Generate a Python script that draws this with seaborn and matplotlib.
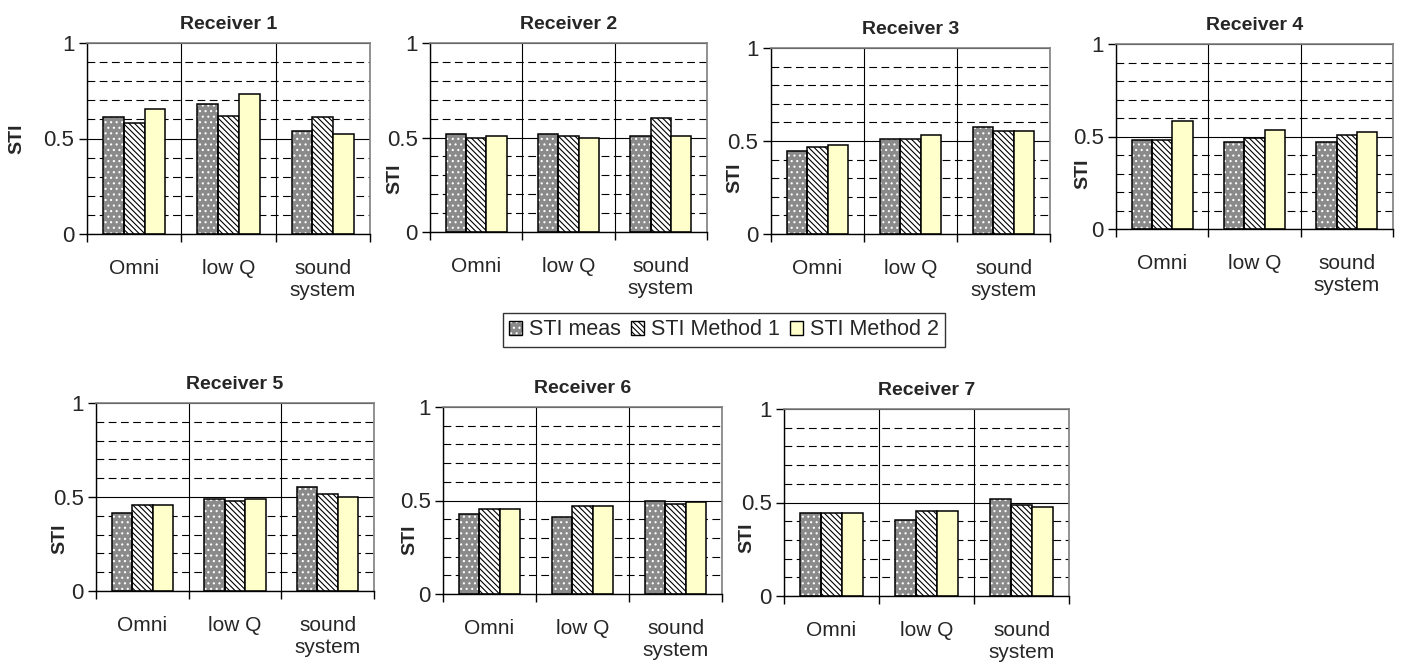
import numpy as np
import pandas as pd
import matplotlib
matplotlib.use("Agg")
import matplotlib.pyplot as plt
import seaborn as sns
from matplotlib.patches import Rectangle, Patch
from matplotlib.ticker import FixedLocator, MultipleLocator

# ---------------- data ----------------
receivers = ["Receiver 1", "Receiver 2", "Receiver 3", "Receiver 4",
             "Receiver 5", "Receiver 6", "Receiver 7"]
categories = ["Omni", "low Q", "sound\nsystem"]
series = ["STI meas", "STI Method 1", "STI Method 2"]

sti_meas = [[0.61, 0.68, 0.54], [0.52, 0.52, 0.51], [0.445, 0.51, 0.575],
            [0.48, 0.47, 0.47], [0.415, 0.49, 0.555], [0.43, 0.41, 0.50],
            [0.445, 0.405, 0.52]]
sti_method1 = [[0.58, 0.62, 0.61], [0.50, 0.51, 0.605], [0.47, 0.51, 0.555],
               [0.48, 0.49, 0.51], [0.46, 0.48, 0.515], [0.455, 0.47, 0.48],
               [0.445, 0.455, 0.485]]
sti_method2 = [[0.655, 0.735, 0.525], [0.51, 0.50, 0.51], [0.48, 0.53, 0.555],
               [0.585, 0.535, 0.525], [0.46, 0.49, 0.50], [0.455, 0.47, 0.49],
               [0.445, 0.455, 0.475]]
y_ticks = [0, 0.5, 1]
y_tick_labels = ["0", "0.5", "1"]

rows = []
for r, name in enumerate(receivers):
    for s, vals in zip(series, [sti_meas[r], sti_method1[r], sti_method2[r]]):
        for c, v in zip(categories, vals):
            rows.append({"receiver": name, "series": s, "category": c, "STI": v})
df = pd.DataFrame(rows)

# ---------------- style ----------------
sns.set_style("white")
plt.rcParams["font.family"] = ["Liberation Sans", "DejaVu Sans"]
plt.rcParams["hatch.linewidth"] = 0.8

W, H = 1402, 668
fig = plt.figure(figsize=(W / 100, H / 100), dpi=100)
fig.patch.set_facecolor("white")

# axes boxes in pixels: left, top, right, bottom ; ylabel centre offset px, ylabel y frac
boxes = [(87, 43, 370, 234, 70, 0.50),
         (430, 43, 707, 232, 35, 0.28),
         (771, 48, 1050, 234, 36, 0.30),
         (1116, 44, 1393, 229, 33, 0.30),
         (96, 403, 374, 591, 36, 0.28),
         (443, 407, 722, 594, 33, 0.29),
         (784, 409, 1069, 596, 37, 0.31)]

palette = {"STI meas": "#8a8a8a", "STI Method 1": "white", "STI Method 2": "#ffffcc"}
EDGE_LW = 1.1
MEAS_HATCH = "..."
M1_HATCH = "\\\\\\\\\\\\"

for name, (l, t, r, b, lab_off, lab_y) in zip(receivers, boxes):
    ax = fig.add_axes([l / W, 1 - b / H, (r - l) / W, (b - t) / H])
    sub = df[df["receiver"] == name]
    sns.barplot(data=sub, x="category", y="STI", hue="series", order=categories,
                hue_order=series, palette=palette, width=0.66, saturation=1,
                legend=False, ax=ax, errorbar=None)
    for i, cont in enumerate(ax.containers):
        for bar in cont:
            if i == 0:
                bar.set_facecolor(palette[series[0]])
                bar.set_edgecolor("white")
                bar.set_hatch(MEAS_HATCH)
                bar.set_linewidth(0)
                ax.add_patch(Rectangle(bar.get_xy(), bar.get_width(), bar.get_height(),
                                       fill=False, edgecolor="black", lw=EDGE_LW,
                                       zorder=bar.get_zorder() + 0.1))
            elif i == 1:
                bar.set_facecolor("white")
                bar.set_edgecolor("black")
                bar.set_hatch(M1_HATCH)
                bar.set_linewidth(EDGE_LW)
            else:
                bar.set_facecolor(palette[series[2]])
                bar.set_edgecolor("black")
                bar.set_linewidth(EDGE_LW)

    ax.set_xlim(-0.5, 2.5)
    ax.set_ylim(0, 1)
    ax.set_yticks(y_ticks)
    ax.set_yticklabels(y_tick_labels)
    ax.yaxis.set_minor_locator(MultipleLocator(0.1))
    ax.xaxis.set_minor_locator(FixedLocator([-0.5, 0.5, 1.5, 2.5]))
    ax.set_xticks(range(len(categories)))
    ax.set_xticklabels(categories, linespacing=1.2)

    ax.tick_params(axis="x", which="major", length=0, pad=18, labelsize=15)
    ax.tick_params(axis="x", which="minor", length=6, width=1, direction="out",
                   color="black", bottom=True)
    ax.tick_params(axis="y", which="major", length=6, width=1, direction="out",
                   color="black", pad=3, labelsize=16, left=True)
    ax.tick_params(axis="y", which="minor", length=0)

    ax.grid(False)
    ax.yaxis.grid(True, which="major", color="black", lw=0.8, ls="-")
    ax.yaxis.grid(True, which="minor", color="black", lw=0.8, ls=(0, (7, 4)))
    ax.xaxis.grid(True, which="minor", color="black", lw=0.8, ls="-")
    ax.set_axisbelow(True)

    for side in ["left", "bottom"]:
        ax.spines[side].set_color("black")
        ax.spines[side].set_linewidth(1.0)
    for side in ["top", "right"]:
        ax.spines[side].set_color("#808080")
        ax.spines[side].set_linewidth(1.2)

    ax.set_xlabel("")
    ax.set_ylabel("STI", fontsize=14, fontweight="bold")
    ax.yaxis.set_label_coords(-(lab_off - 8) / (r - l), lab_y)
    ax.set_title(name, fontsize=14, fontweight="bold", pad=10)

# legend
h_meas = (Patch(facecolor=palette[series[0]], edgecolor="white", hatch=MEAS_HATCH, lw=0),
          Patch(facecolor="none", edgecolor="black", lw=1.0))
h_m1 = Patch(facecolor="white", edgecolor="black", hatch=M1_HATCH, lw=1.0)
h_m2 = Patch(facecolor=palette[series[2]], edgecolor="black", lw=1.0)
leg = fig.legend([h_meas, h_m1, h_m2], series, loc="upper left",
                 bbox_to_anchor=(503 / W, 1 - 313 / H), borderaxespad=0,
                 ncol=3, fontsize=15.5, frameon=True, fancybox=False,
                 handlelength=0.6, handleheight=0.6, handletextpad=0.3,
                 columnspacing=0.5, borderpad=0.3)
leg.get_frame().set_edgecolor("black")
leg.get_frame().set_linewidth(1.0)

fig.savefig("out.png", dpi=100, facecolor="white")
